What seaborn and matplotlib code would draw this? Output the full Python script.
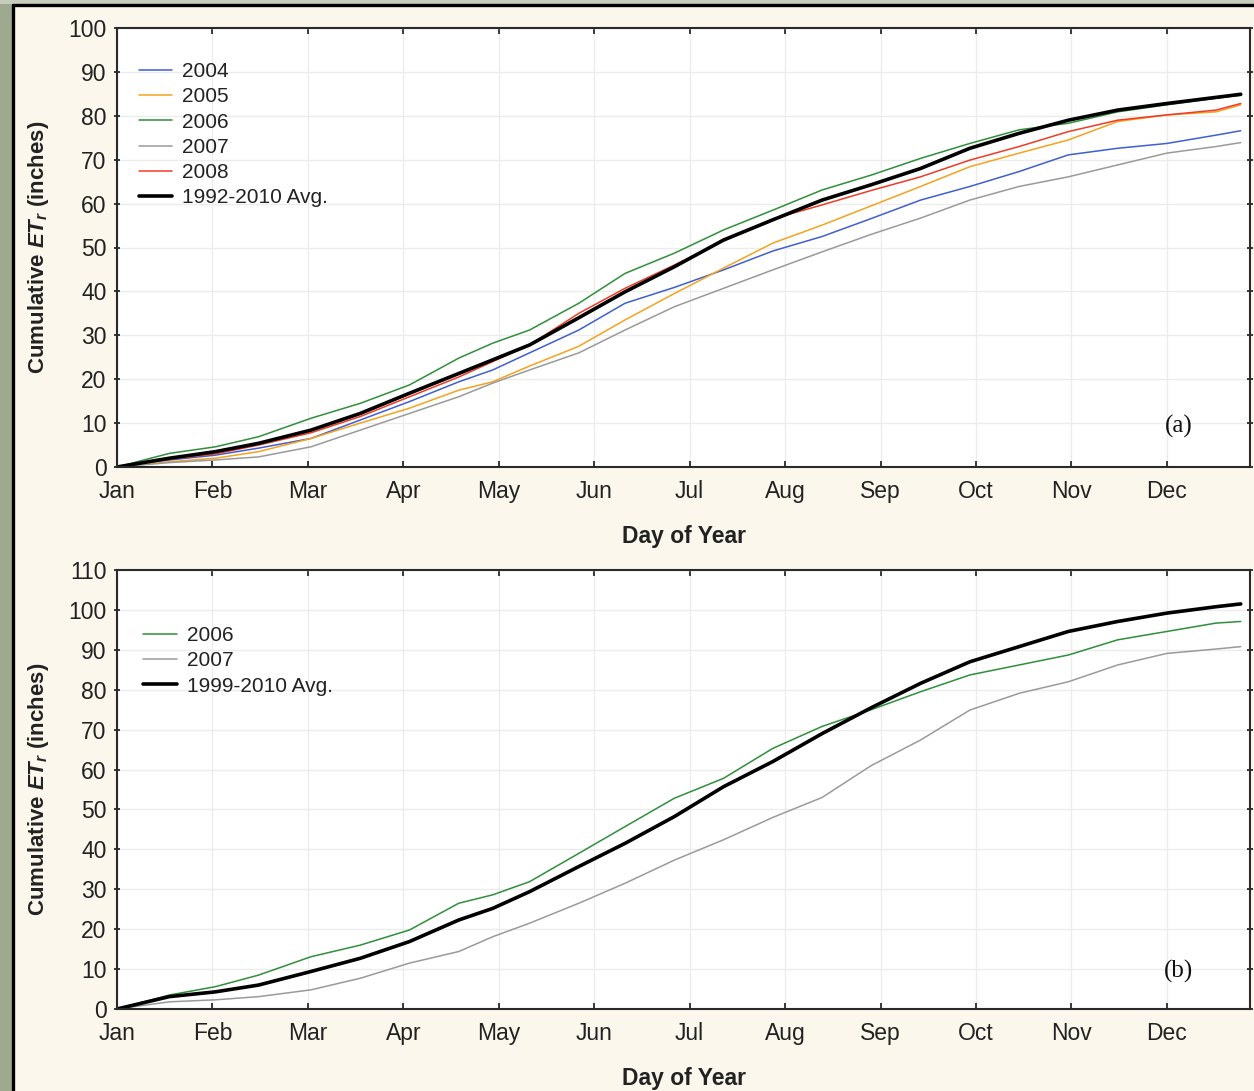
import matplotlib
matplotlib.use("Agg")
import matplotlib.pyplot as plt
import seaborn as sns
import numpy as np
import pandas as pd
from matplotlib.patches import Rectangle
from matplotlib.lines import Line2D

# ---------------- data ----------------
days = [0, 17, 32, 46, 63, 79, 95, 111, 122, 134, 150, 165, 181, 197, 213,
        229, 245, 261, 277, 293, 309, 325, 341, 357, 365]

# panel (a)
et_2004 = [0, 1.6, 2.7, 4.3, 6.5, 10.7, 14.9, 19.4, 22.1, 26.0, 31.2, 37.3, 40.9,
           44.9, 49.2, 52.5, 56.6, 60.8, 63.9, 67.3, 71.1, 72.6, 73.7, 75.6, 76.6]
et_2005 = [0, 1.2, 2.0, 3.5, 6.5, 10.0, 13.4, 17.5, 19.4, 23.0, 27.5, 33.5, 39.5,
           45.3, 51.0, 55.1, 59.5, 63.9, 68.4, 71.5, 74.5, 78.7, 80.2, 80.9, 82.5]
et_2006a = [0, 3.1, 4.6, 6.9, 11.1, 14.5, 18.7, 24.8, 28.2, 31.2, 37.3, 44.1, 48.7,
            54.0, 58.5, 63.1, 66.5, 70.3, 73.7, 76.8, 78.3, 80.9, 82.5, 84.0, 84.7]
et_2007a = [0, 1.0, 1.6, 2.3, 4.6, 8.4, 12.2, 16.0, 19.1, 22.1, 26.0, 31.2, 36.5,
            40.7, 44.9, 49.0, 53.0, 56.7, 60.8, 63.9, 66.1, 68.8, 71.5, 73.0, 73.9]
et_2008 = [0, 1.8, 3.0, 5.0, 7.8, 11.5, 16.0, 20.5, 24.0, 27.8, 35.0, 40.7, 46.0,
           51.5, 56.5, 59.7, 63.0, 66.1, 69.9, 73.0, 76.4, 79.0, 80.2, 81.3, 82.8]
avg_a = [0, 2.0, 3.5, 5.4, 8.4, 12.2, 16.8, 21.3, 24.4, 27.8, 34.0, 39.9, 45.6,
         51.7, 56.3, 60.8, 64.3, 68.0, 72.6, 76.0, 79.0, 81.3, 82.8, 84.2, 84.9]

# panel (b)
et_2006b = [0, 3.5, 5.6, 8.5, 13.1, 16.0, 19.8, 26.5, 28.6, 31.9, 39.0, 45.7, 52.8,
            57.8, 65.3, 70.8, 75.0, 79.5, 83.7, 86.2, 88.7, 92.5, 94.6, 96.7, 97.1]
et_2007b = [0, 1.8, 2.3, 3.1, 4.8, 7.7, 11.5, 14.4, 18.1, 21.5, 26.5, 31.5, 37.3,
            42.4, 48.0, 53.0, 61.0, 67.4, 74.9, 79.1, 82.0, 86.2, 89.1, 90.2, 90.8]
avg_b = [0, 3.1, 4.3, 6.0, 9.4, 12.7, 16.9, 22.3, 25.2, 29.4, 35.7, 41.5, 48.2,
         55.7, 62.0, 69.0, 75.5, 81.6, 87.0, 90.8, 94.6, 97.1, 99.2, 100.8, 101.5]

months = ["Jan", "Feb", "Mar", "Apr", "May", "Jun", "Jul", "Aug", "Sep", "Oct", "Nov", "Dec"]
month_ticks = [0, 31, 62, 93, 124, 155, 186, 217, 248, 279, 310, 341]

series_a = [("2004", et_2004, "#3F5FD0", 1.1),
            ("2005", et_2005, "#F5A21E", 1.1),
            ("2006", et_2006a, "#2F8F3A", 1.1),
            ("2007", et_2007a, "#9A9A9A", 1.1),
            ("2008", et_2008, "#F03A24", 1.1),
            ("1992-2010 Avg.", avg_a, "#000000", 2.6)]
series_b = [("2006", et_2006b, "#2F8F3A", 1.1),
            ("2007", et_2007b, "#9A9A9A", 1.1),
            ("1999-2010 Avg.", avg_b, "#000000", 2.6)]

# ---------------- style ----------------
sns.set_style("white")
plt.rcParams["font.family"] = ["Liberation Sans", "DejaVu Sans"]
plt.rcParams["mathtext.fontset"] = "custom"
plt.rcParams["mathtext.rm"] = "Liberation Sans:bold"
plt.rcParams["mathtext.it"] = "Liberation Sans:bold:italic"
plt.rcParams["mathtext.bf"] = "Liberation Sans:bold"

W, H = 1254, 1091
bg = "#FBF7EC"
fig = plt.figure(figsize=(W / 100, H / 100), dpi=100, facecolor=bg)

# decorative frame: textured strip left/top and black border
fig.patches.append(Rectangle((0, 0), 12 / W, 1, transform=fig.transFigure,
                             facecolor="#9FA98F", edgecolor="none", zorder=0))
fig.patches.append(Rectangle((0, 1 - 4 / H), 1, 4 / H, transform=fig.transFigure,
                             facecolor="#C7CCBC", edgecolor="none", zorder=0))
fig.lines.append(Line2D([13 / W, 13 / W], [0, 1 - 5 / H], transform=fig.transFigure,
                        color="black", lw=2.4))
fig.lines.append(Line2D([13 / W, 1], [1 - 5 / H, 1 - 5 / H], transform=fig.transFigure,
                        color="black", lw=2.4))

left, right = 117, 1250
ax1 = fig.add_axes([left / W, 1 - 467 / H, (right - left) / W, 439 / H])
ax2 = fig.add_axes([left / W, 1 - 1009 / H, (right - left) / W, 439 / H])


def style(ax, series, ymax, legend_top, legend_x, letter, letter_y):
    ax.set_facecolor("white")
    for name, vals, col, lw in series:
        sns.lineplot(x=days, y=vals, ax=ax, color=col, lw=lw, label=name)
    ax.set_xlim(0, 368)
    ax.set_ylim(0, ymax)
    ax.set_xticks(month_ticks)
    ax.set_xticklabels(months)
    ax.set_yticks(np.arange(0, ymax + 1, 10))
    ax.grid(True, color="#ECECEC", lw=1.0)
    for s in ax.spines.values():
        s.set_color("#2A2A2A")
        s.set_linewidth(1.5)
    ax.tick_params(axis="x", direction="in", length=4, width=1.3, top=True,
                   bottom=True, pad=9.5, labelsize=16.5, colors="#2A2A2A",
                   labelcolor="#222222")
    ax.tick_params(axis="y", direction="inout", length=5, width=1.3, left=True,
                   right=True, pad=5, labelsize=16.5, colors="#2A2A2A",
                   labelcolor="#222222")
    ax.set_xlabel("Day of Year", fontsize=16.5, fontweight="bold", color="#222222")
    ax.xaxis.set_label_coords(0.5, -0.133)
    ax.set_ylabel(r"Cumulative $ET_r$ (inches)", fontsize=16,
                  fontweight="bold", color="#222222")
    ax.yaxis.set_label_coords(-0.058, 0.5)
    leg = ax.legend(loc="upper left", bbox_to_anchor=(legend_x, legend_top),
                    frameon=False, fontsize=15, handlelength=1.63,
                    handletextpad=0.48, labelspacing=0.3, borderpad=0,
                    borderaxespad=0)
    for t in leg.get_texts():
        t.set_color("#222222")
    ax.text(0.937, letter_y, letter, transform=ax.transAxes, fontsize=18,
            family=["Liberation Serif", "DejaVu Serif"], ha="center",
            va="center", color="#111111")


style(ax1, series_a, 100, 0.922, 0.019, "(a)", 0.093)
style(ax2, series_b, 110, 0.872, 0.023, "(b)", 0.086)

fig.savefig("out.png", dpi=100, facecolor=bg)
